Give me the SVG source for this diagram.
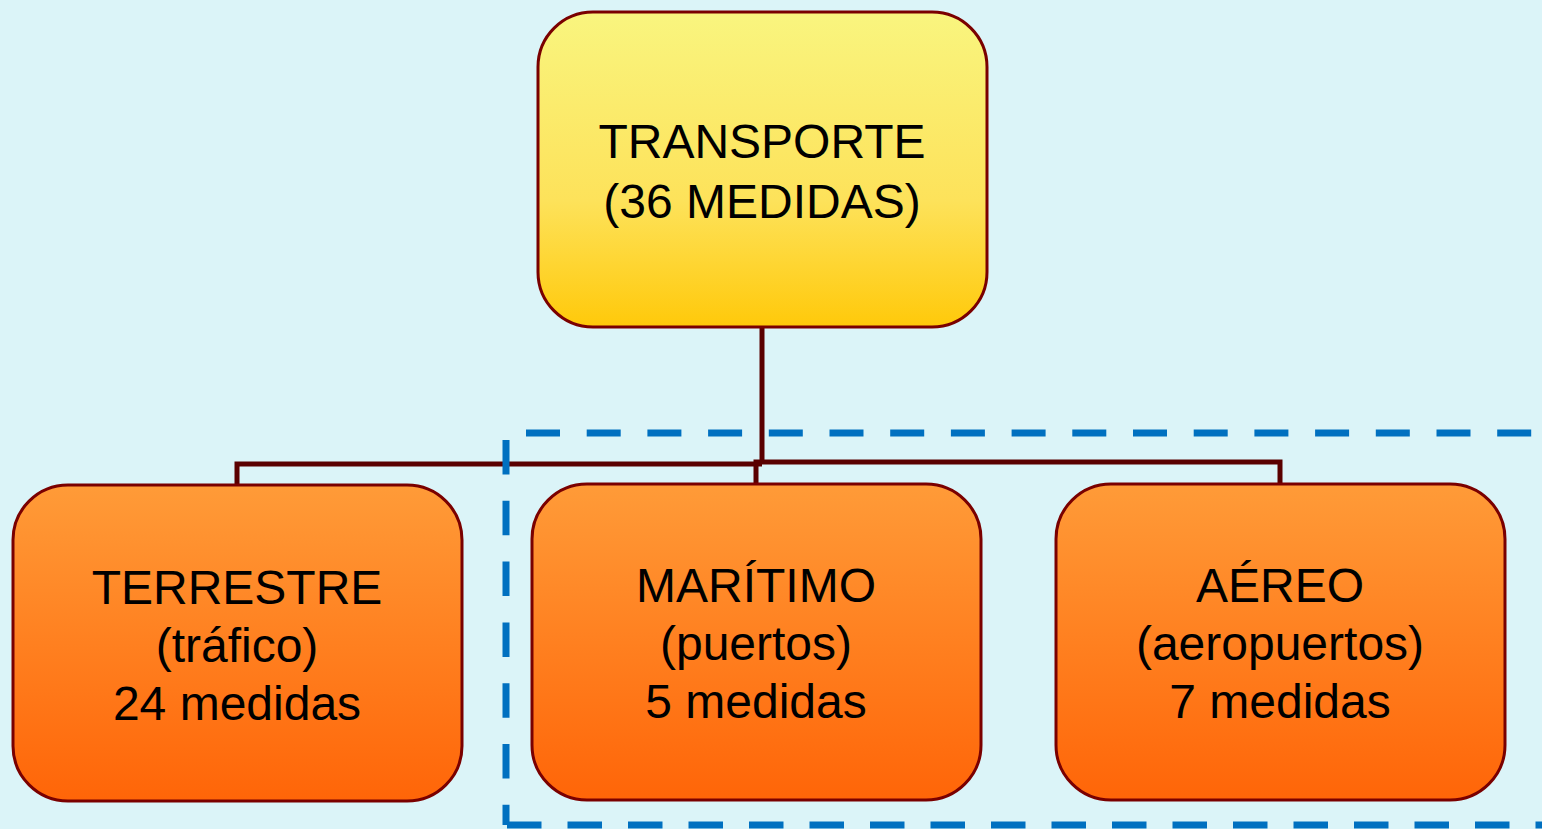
<svg xmlns="http://www.w3.org/2000/svg" width="1542" height="829" viewBox="0 0 1542 829">
<defs>
<linearGradient id="gy" x1="0" y1="0" x2="0" y2="1">
<stop offset="0" stop-color="#F9F57F"/>
<stop offset="0.6" stop-color="#FDE25A"/>
<stop offset="1" stop-color="#FFC90A"/>
</linearGradient>
<linearGradient id="go" x1="0" y1="0" x2="0" y2="1">
<stop offset="0" stop-color="#FF9B38"/>
<stop offset="1" stop-color="#FF6508"/>
</linearGradient>
<style>
.box{stroke:#7A0000;stroke-width:3}
.t{font-family:"Liberation Sans",Arial,sans-serif;font-size:48px;fill:#000;text-anchor:middle}
.c{stroke:#5A0000;stroke-width:5;fill:none}
.d{stroke:#0070C0;stroke-width:7;fill:none}
</style>
</defs>
<rect width="1542" height="829" fill="#DBF4F8"/>
<g id="connectors">
<path class="c" d="M762,327 V463 M237,486 V464 H762 M756,485 V462 H1280 V485"/>
</g>
<g id="top">
<rect class="box" x="538" y="12" width="449" height="315" rx="55" fill="url(#gy)"/>
<text class="t" x="762" y="158">TRANSPORTE</text>
<text class="t" x="762" y="218">(36 MEDIDAS)</text>
</g>
<g id="terrestre">
<rect class="box" x="13" y="485" width="449" height="316" rx="55" fill="url(#go)"/>
<text class="t" x="237" y="604">TERRESTRE</text>
<text class="t" x="237" y="662">(tráfico)</text>
<text class="t" x="237" y="720">24 medidas</text>
</g>
<g id="maritimo">
<rect class="box" x="532" y="484" width="449" height="316" rx="55" fill="url(#go)"/>
<text class="t" x="756" y="602">MARÍTIMO</text>
<text class="t" x="756" y="660">(puertos)</text>
<text class="t" x="756" y="718">5 medidas</text>
</g>
<g id="aereo">
<rect class="box" x="1056" y="484" width="449" height="316" rx="55" fill="url(#go)"/>
<text class="t" x="1280" y="602">AÉREO</text>
<text class="t" x="1280" y="660">(aeropuertos)</text>
<text class="t" x="1280" y="718">7 medidas</text>
</g>
<g id="group-box">
<path class="d" d="M526,433 H1542" stroke-dasharray="34 26.7"/>
<path class="d" d="M506,440 V825" stroke-dasharray="34.5 26.3"/>
<path class="d" d="M507,825 H1542" stroke-dasharray="34.5 26"/>
</g>
</svg>
